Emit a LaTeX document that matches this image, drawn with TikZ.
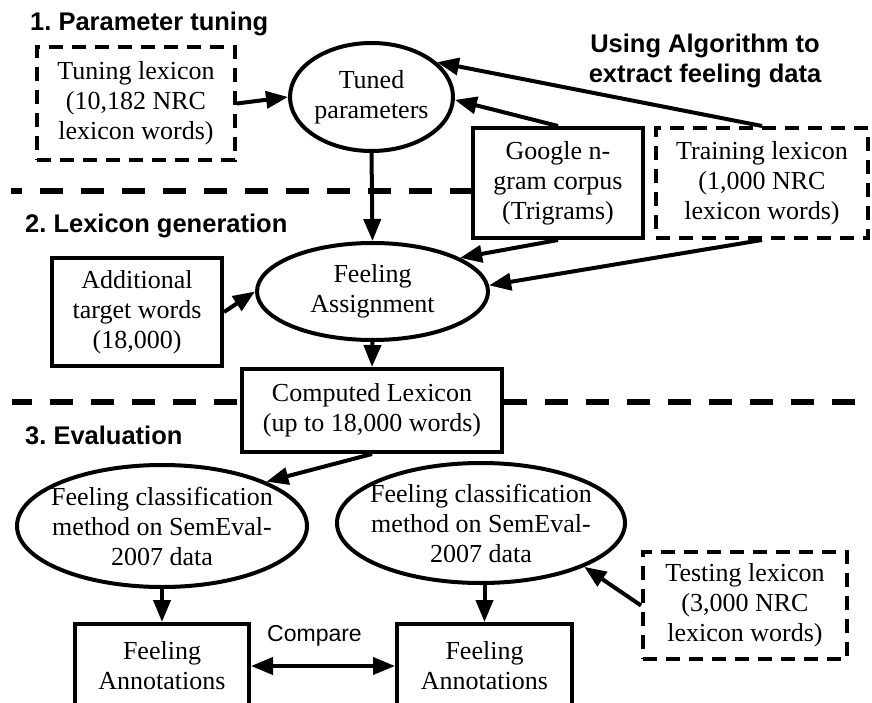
\documentclass[tikz,border=0pt]{standalone}
\usepackage{fontspec}
\setmainfont{Liberation Serif}
\setsansfont{Liberation Sans}
\usetikzlibrary{shapes.geometric,arrows.meta}
\frenchspacing

\begin{document}
\begin{tikzpicture}[x=1pt, y=-1pt,
    txt/.style={font=\fontsize{26}{30}\selectfont, align=center, inner sep=0pt},
    stage/.style={font=\sffamily\bfseries\fontsize{25.5}{30}\selectfont, inner sep=0pt},
    solidbox/.style={txt, rectangle, draw, line width=4pt},
    dashbox/.style={solidbox, dash pattern=on 14pt off 9pt},
    oval/.style={txt, ellipse, draw, line width=4pt},
    flow/.style={line width=4pt, -{Triangle[length=22pt, width=17pt]}},
    divider/.style={line width=6pt, dash pattern=on 23pt off 18pt}]
                \useasboundingbox (0,0) rectangle (872,703);
                \clip (0,0) rectangle (872,703);

                % 1. Parameter tuning
                \node[stage, anchor=base west] (s1) at (30,31) {1. Parameter tuning};
                \node[stage, align=center] (algo) at (705,61) {Using Algorithm to\\extract feeling data};
                \node[dashbox, minimum width=198pt, minimum height=113pt] (tune) at (136,103.5) {Tuning lexicon\\(10,182 NRC\\lexicon words)};
                \node[oval, minimum width=163pt, minimum height=108pt] (tuned) at (371.5,97) {Tuned\\parameters};
                \node[solidbox, minimum width=170pt, minimum height=110pt] (google) at (558,183) {Google n-\\gram corpus\\(Trigrams)};
                \node[dashbox, minimum width=212pt, minimum height=110pt] (train) at (762,183) {Training lexicon\\(1,000 NRC\\lexicon words)};

                % 2. Lexicon generation
                \node[stage, anchor=base west] (s2) at (25,233) {2. Lexicon generation};
                \node[oval, minimum width=231pt, minimum height=97pt] (assign) at (372.5,291.5) {Feeling\\Assignment};
                \node[solidbox, minimum width=170pt, minimum height=108pt] (addit) at (137,312) {Additional\\target words\\(18,000)};
                \node[solidbox, minimum width=260pt, minimum height=83pt] (comp) at (372,410.5) {Computed Lexicon\\(up to 18,000 words)};

                % 3. Evaluation
                \node[stage, anchor=base west] (s3) at (25,444) {3. Evaluation};
                \node[oval, inner xsep=-9pt, minimum width=290pt, minimum height=122pt] (cls1) at (162,526) {Feeling classification\\method on SemEval-\\2007 data};
                \node[oval, inner xsep=-9pt, minimum width=288pt, minimum height=120pt] (cls2) at (481,523) {Feeling classification\\method on SemEval-\\2007 data};
                \node[dashbox, minimum width=204pt, minimum height=107pt] (test) at (745,605.5) {Testing lexicon\\(3,000 NRC\\lexicon words)};
                \node[solidbox, minimum width=174pt, minimum height=84pt] (ann1) at (162,666) {Feeling\\Annotations};
                \node[solidbox, minimum width=175pt, minimum height=84pt] (ann2) at (484.5,666) {Feeling\\Annotations};
                \node[font=\sffamily\fontsize{23}{27}\selectfont, inner sep=0pt, anchor=base] (cmp) at (314.5,641) {Compare};

                % Stage dividers
                \coordinate (d1) at (11,191);
                \draw[divider, dash phase=12pt] (d1) -- (d1 -| google.west);
                \coordinate (d2) at (12,402);
                \draw[divider, dash phase=3pt] (d2) -- (d2 -| comp.west);
                \coordinate (d3) at (855,402);
                \draw[divider] (comp.east |- d3) -- (d3);

                % Connectors
                \draw[flow] (tune.east) -- (tuned.west);
                \draw[flow] (train.north) -- (tuned.28);
                \draw[flow] (google.north) -- (tuned.-2);
                \draw[flow] (tuned.south) -- (assign.north);
                \draw[flow] (google.south) -- (assign.21);
                \draw[flow] (train.south) -- (assign.3);
                \draw[flow] (addit.east) -- (assign.west);
                \draw[flow] (assign.south) -- (comp.north);
                \draw[flow] (comp.south) -- (cls1.23);
                \draw[flow] (cls1.south) -- (ann1.north);
                \draw[flow] (cls2.south -| ann2.north) -- (ann2.north);
                \draw[flow] (test.west) -- (cls2.-23);
                \draw[line width=4pt, {Triangle[length=22pt, width=17pt]}-{Triangle[length=22pt, width=17pt]}] (ann1.east) -- (ann2.west);
            \end{tikzpicture}
\end{document}
